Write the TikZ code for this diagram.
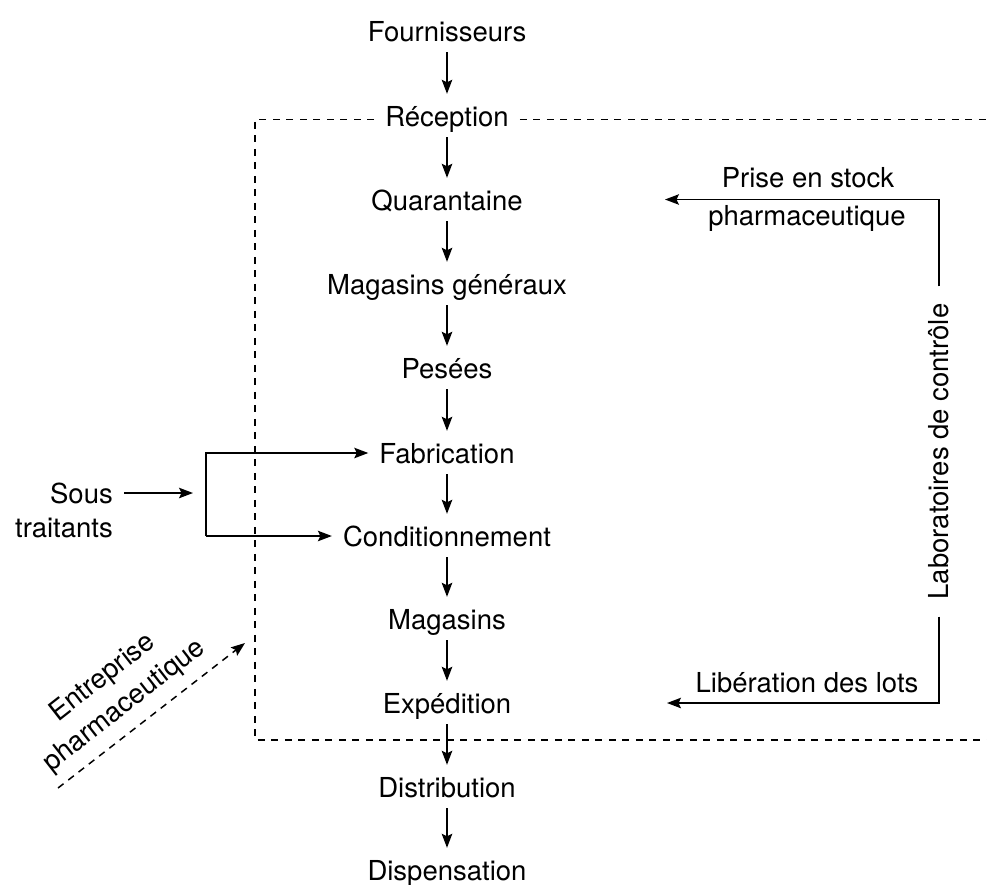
\documentclass[tikz,border=0pt]{standalone}
\usepackage{fontspec}
\setmainfont{TeX Gyre Heros}
\usetikzlibrary{arrows.meta}
\begin{document}
\begin{tikzpicture}[x=1pt,y=-1pt,
  every node/.style={font=\fontsize{27.5}{35}\selectfont},
  stage/.style={inner xsep=11pt, inner ysep=0pt, text height=20pt, text depth=7pt},
  tip/.style={-{Stealth[length=14pt,width=10.5pt,inset=2.5pt]}},
  flow/.style={tip, line width=1.5pt},
  down/.style={flow, shorten <=4pt, shorten >=12pt},
  boxline/.style={line width=1.7pt, dash pattern=on 7pt off 6.5pt},
]
\useasboundingbox (0,0) rectangle (987,884);

% main chain of stages
\node[stage] (fou) at (447,34.5)  {Fournisseurs};
\node[stage] (rec) at (447,119.5) {Réception};
\node[stage] (qua) at (447,203.5) {Quarantaine};
\node[stage] (mgg) at (447,287.5) {Magasins généraux};
\node[stage] (pes) at (447,371.5) {Pesées};
\node[stage] (fab) at (447,456.5) {Fabrication};
\node[stage] (con) at (447,539.5) {Conditionnement};
\node[stage] (mag) at (447,622.5) {Magasins};
\node[stage] (exp) at (447,706.5) {Expédition};
\node[stage] (dis) at (447,790.5) {Distribution};
\node[stage] (dsp) at (447,873.5) {Dispensation};

\foreach \a/\b in {fou/rec,rec/qua,qua/mgg,mgg/pes,pes/fab,fab/con,con/mag,mag/exp,exp/dis,dis/dsp}
  \draw[down] (\a) -- (\b);

% boundary of the company
\coordinate (boxBL) at (255,740);
\coordinate (boxBR) at (987,740);
\draw[boxline] (rec.west) -| (boxBL) -- (boxBR);
\draw[boxline] (rec.east) -- (rec.east -| boxBR);

% subcontractors
\node[stage, anchor=east] (sous) at (124,496.5) {Sous};
\node[stage, anchor=east] (trai) at (124,530.5) {traitants};
\coordinate (sousTip) at (193,493);
\draw[flow] (sous.east |- sousTip) -- (sousTip);
\coordinate (brT) at (206,453);
\coordinate (brB) at (206,536);
\draw[flow] (brB) -- (brT) -- (brT -| fab.west);
\draw[flow] (brB) -- (brB -| con.west);

% quality control laboratory
\node[rotate=90, inner xsep=17pt, inner ysep=0pt] (lab) at (939,451.5) {Laboratoires de contrôle};
\coordinate (quaTip) at (665,199.5);
\coordinate (expTip) at (667,703);
\draw[flow] (lab) |- (quaTip);
\draw[flow] (lab) |- (expTip);
\node[stage] (prise) at (808,180.5) {Prise en stock};
\node[stage] (pharm) at (807,218.5) {pharmaceutique};
\node[stage] (libe)  at (807,685.5) {Libération des lots};

% pharmaceutical company
\coordinate (entS) at (58,788);
\coordinate (entT) at (245,643);
\draw[flow, dash pattern=on 7pt off 6pt] (entS) -- (entT);
\node[rotate=38, align=center] (ent) at (114,692) {Entreprise\\pharmaceutique};
\end{tikzpicture}
\end{document}
